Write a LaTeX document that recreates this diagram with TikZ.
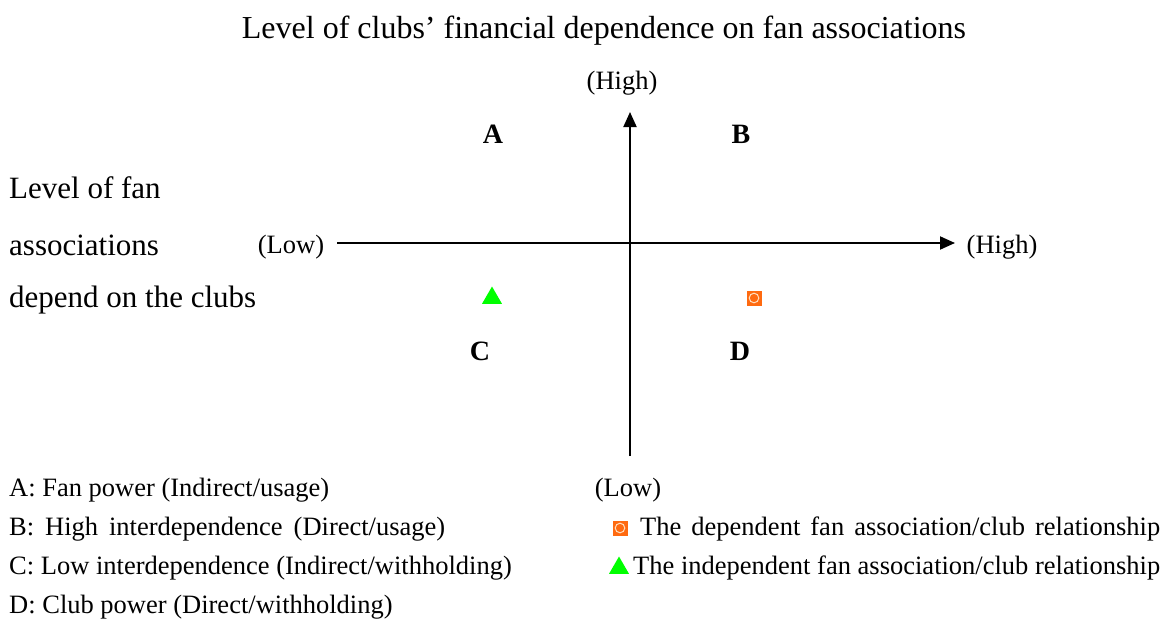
\documentclass[tikz,border=0pt]{standalone}
\usepackage{fontspec}
\setmainfont{Liberation Serif}
\usetikzlibrary{arrows.meta,shapes.geometric}
\definecolor{sqorange}{HTML}{FF6A10}
\definecolor{trigreen}{HTML}{00FF00}
\begin{document}
\begin{tikzpicture}[x=1pt,y=-1pt,
  lbl/.style={inner sep=0pt,anchor=base,font=\fontsize{26.5}{30}\selectfont},
  key/.style={inner sep=0pt,anchor=base west,font=\fontsize{26.5}{30}\selectfont},
  big/.style={inner sep=0pt,anchor=base west,font=\fontsize{31}{36}\selectfont},
  quad/.style={inner sep=0pt,anchor=base,font=\fontsize{28}{32}\selectfont\bfseries},
  axis/.style={line width=2pt,-{Triangle[length=15pt,width=13pt]}},
  tri/.style={fill=trigreen,regular polygon,regular polygon sides=3,inner sep=0pt,minimum size=23pt},
  sq/.style={fill=sqorange,minimum size=15pt,inner sep=0pt,
    path picture={\draw[white!75!orange,line width=1pt] (path picture bounding box.center) circle (4.8pt);}}
  ]
\useasboundingbox (0,0) rectangle (1166,635);
\node[inner sep=0pt,anchor=base,font=\fontsize{32}{36}\selectfont] (title) at (604,38) {Level of clubs’ financial dependence on fan associations};
\node[lbl] (vhigh) at (622,89) {(High)};
\node[lbl] (vlow) at (628,496) {(Low)};
\node[lbl] (hlow) at (291,253) {(Low)};
\node[lbl] (hhigh) at (1002,253) {(High)};
\coordinate (vb) at (630,456);
\coordinate (vt) at (630,112);
\coordinate (hl) at (337,243);
\coordinate (hr) at (955,243);
\draw[axis] (vb) -- (vt);
\draw[axis] (hl) -- (hr);
\node[quad] (A) at (493,143) {A};
\node[quad] (B) at (741,143) {B};
\node[quad] (C) at (480,360) {C};
\node[quad] (D) at (740,360) {D};
\node[tri] (t1) at (492,298) {};
\node[sq] (s1) at (754,298) {};
\node[big] (l1) at (9,198) {Level of fan};
\node[big] (l2) at (9,255) {associations};
\node[big] (l3) at (9,307) {depend on the clubs};
\node[key] (ka) at (9,496) {A: Fan power (Indirect/usage)};
\node[key] (kb) at (9,535) {\makebox[436pt][s]{B: High interdependence (Direct/usage)}};
\node[key] (kc) at (9,574) {C: Low interdependence (Indirect/withholding)};
\node[key] (kd) at (9,613) {D: Club power (Direct/withholding)};
\node[sq] (s2) at (620,528) {};
\node[key] (kdep) at (640,535) {\makebox[520pt][s]{The dependent fan association/club relationship}};
\node[tri] (t2) at (619,568) {};
\node[key] (kind) at (633,574) {\makebox[527pt][s]{The independent fan association/club relationship}};
\end{tikzpicture}
\end{document}
